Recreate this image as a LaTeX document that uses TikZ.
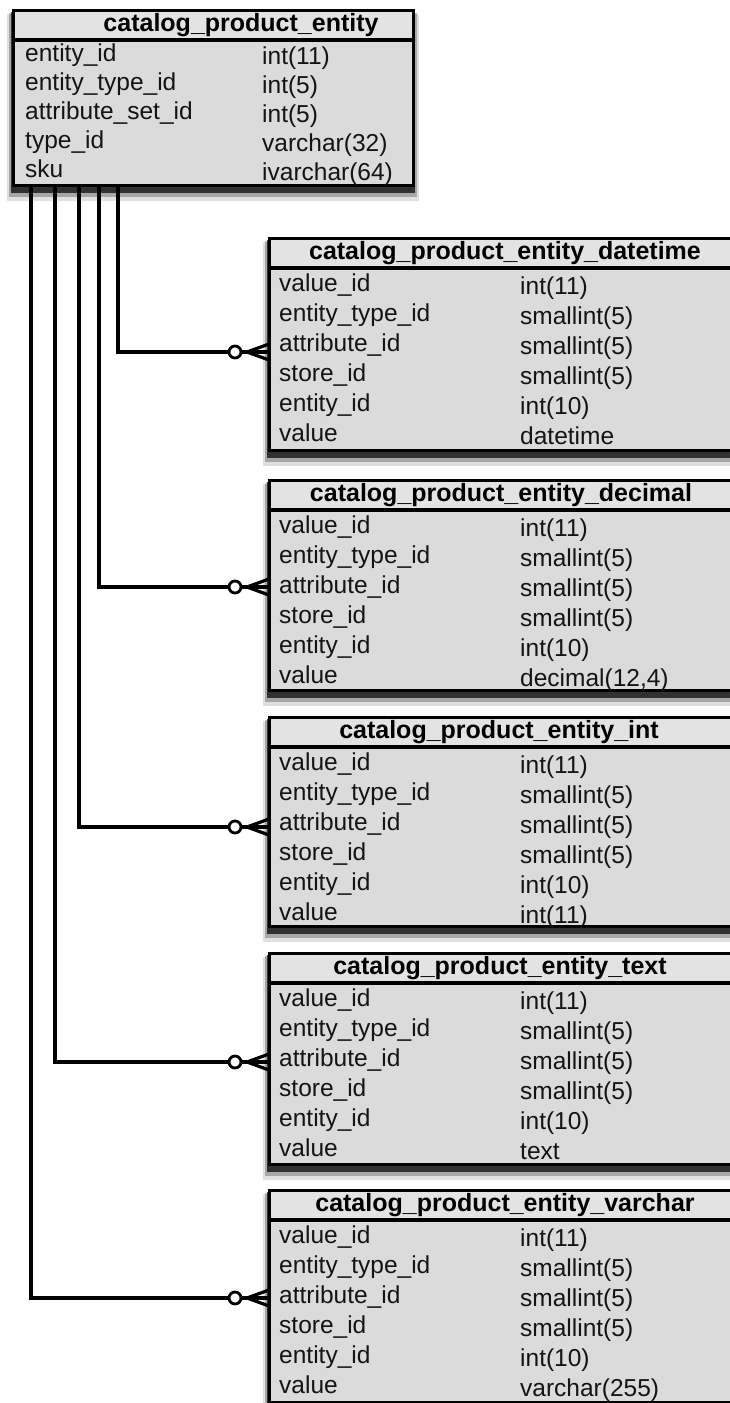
\documentclass[tikz,border=0pt]{standalone}
\usepackage{fontspec}
\setmainfont{Liberation Sans}
\usetikzlibrary{calc}
\definecolor{tblfill}{gray}{0.86}
\definecolor{hdrfill}{gray}{0.89}
\definecolor{inkc}{gray}{0.08}
\tikzset{
  tblborder/.style={draw=black, line width=3pt},
  hdrline/.style={draw=black, line width=3.2pt},
  fieldtxt/.style={anchor=west, inner sep=0pt, text=inkc, font=\fontsize{24.5}{29}\selectfont, text height=17pt, text depth=5pt},
  titletxt/.style={anchor=center, inner sep=0pt, text=black, font=\fontsize{25}{30}\selectfont\bfseries, text height=18pt, text depth=6pt},
  conn/.style={draw=black, line width=3.2pt},
  circ/.style={circle, draw=black, line width=2.8pt, minimum size=12pt, inner sep=0pt, fill=white},
  tblbody/.style={draw=none, fill=tblfill, anchor=north west, inner sep=0pt, outer sep=0pt},
}
% name, left, top, right, bottom, titlex, title
\newcommand{\ertable}[7]{%
  \fill[black, opacity=0.12] (#2-6,#3+4) rectangle (#4+6,#5+16);
  \fill[black, opacity=0.25] (#2-4,#3+3) rectangle (#4+4,#5+12);
  \fill[black, opacity=0.7] (#2-2,#3+2) rectangle (#4+2,#5+8);
  \node[tblbody, minimum width={(#4-#2)*1pt}, minimum height={(#5-#3)*1pt}] (#1) at (#2,#3) {};
  \fill[hdrfill] (#2,#3) rectangle (#4,#3+30);
  \draw[hdrline] (#2,#3+30) -- (#4,#3+30);
  \draw[tblborder] (#2,#3) rectangle (#4,#5);
  \node[titletxt] (#1-title) at (#6,#3+15) {#7};
}
% tbl, idx, namex, typex, y, name, type
\newcommand{\fld}[7]{%
  \node[fieldtxt] (#1-n#2) at (#3,#5) {#6};
  \node[fieldtxt] (#1-t#2) at (#4,#5+3) {#7};
}
% tbl, left, top, lasttype
\newcommand{\childrows}[4]{%
  \fld{#1}{1}{#2+10}{#2+251}{#3+47}{value\_id}{int(11)}
  \fld{#1}{2}{#2+10}{#2+251}{#3+77}{entity\_type\_id}{smallint(5)}
  \fld{#1}{3}{#2+10}{#2+251}{#3+107}{attribute\_id}{smallint(5)}
  \fld{#1}{4}{#2+10}{#2+251}{#3+137}{store\_id}{smallint(5)}
  \fld{#1}{5}{#2+10}{#2+251}{#3+167}{entity\_id}{int(10)}
  \fld{#1}{6}{#2+10}{#2+251}{#3+197}{value}{#4}
}
% target coordinate, source coordinate
\newcommand{\crowlink}[2]{%
  \node[circ] (#1-o) at ($(#1)+(-34,0)$) {};
  \draw[conn] (#2) |- (#1-o.west);
  \draw[conn] (#1-o.east) -- (#1);
  \draw[conn] ($(#1)+(-22,0)$) -- ($(#1)+(0,-8)$);
  \draw[conn] ($(#1)+(-22,0)$) -- ($(#1)+(0,8)$);
}
\begin{document}
\begin{tikzpicture}[x=1pt,y=-1pt]
\useasboundingbox (0,0) rectangle (729,1403);
\fill[white] (0,0) rectangle (729,1403);

% main table
\ertable{main}{13}{10}{413}{185}{241}{catalog\_product\_entity}
\fld{main}{1}{25}{262}{55}{entity\_id}{int(11)}
\fld{main}{2}{25}{262}{84}{entity\_type\_id}{int(5)}
\fld{main}{3}{25}{262}{113}{attribute\_set\_id}{int(5)}
\fld{main}{4}{25}{262}{142}{type\_id}{varchar(32)}
\fld{main}{5}{25}{262}{171}{sku}{ivarchar(64)}

% child tables
\ertable{dt}{269}{238}{742}{450}{505}{catalog\_product\_entity\_datetime}
\childrows{dt}{269}{238}{datetime}
\ertable{dec}{269}{480}{742}{690}{501}{catalog\_product\_entity\_decimal}
\childrows{dec}{269}{480}{decimal(12,4)}
\ertable{int}{269}{717}{742}{926}{499}{catalog\_product\_entity\_int}
\childrows{int}{269}{717}{int(11)}
\ertable{txt}{269}{953}{742}{1164}{500}{catalog\_product\_entity\_text}
\childrows{txt}{269}{953}{text}
\ertable{vc}{269}{1190}{742}{1402}{505}{catalog\_product\_entity\_varchar}
\childrows{vc}{269}{1190}{varchar(255)}

% attachment points
\coordinate (m1) at ($(main.south west)+(18,0)$);
\coordinate (m2) at ($(main.south west)+(42,0)$);
\coordinate (m3) at ($(main.south west)+(66,0)$);
\coordinate (m4) at ($(main.south west)+(86,0)$);
\coordinate (m5) at ($(main.south west)+(105,0)$);
\coordinate (dt-a) at ($(dt.north west)+(0,114)$);
\coordinate (dec-a) at ($(dec.north west)+(0,107)$);
\coordinate (int-a) at ($(int.north west)+(0,110)$);
\coordinate (txt-a) at ($(txt.north west)+(0,109)$);
\coordinate (vc-a) at ($(vc.north west)+(0,108)$);

\crowlink{dt-a}{m5}
\crowlink{dec-a}{m4}
\crowlink{int-a}{m3}
\crowlink{txt-a}{m2}
\crowlink{vc-a}{m1}
\end{tikzpicture}
\end{document}
